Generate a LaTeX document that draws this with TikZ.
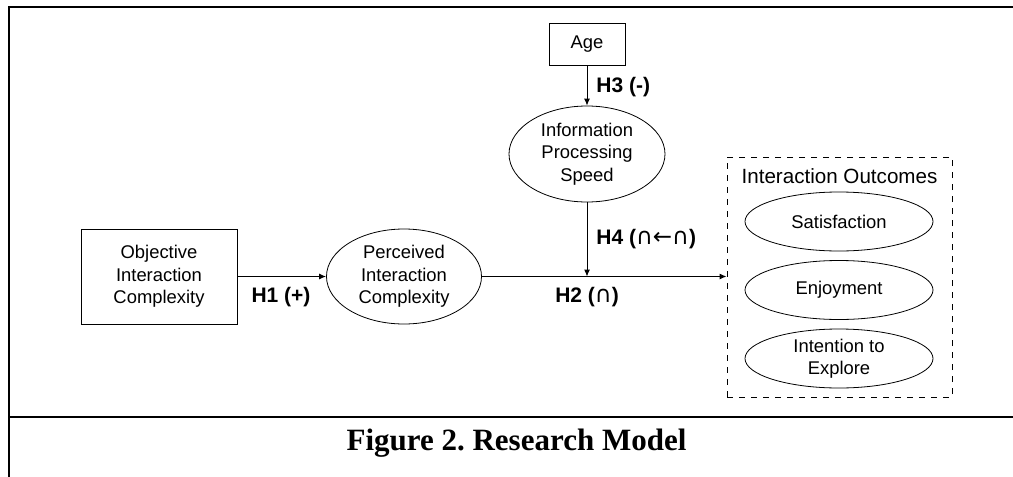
\documentclass[tikz,border=0pt]{standalone}
\usepackage{fontspec}
\setmainfont{Liberation Sans}
\newfontfamily\capfont{Liberation Serif}
\newfontfamily\symfont{DejaVu Sans}
\usetikzlibrary{shapes.geometric,arrows.meta}

\tikzset{
    varbox/.style={draw,rectangle,align=center,inner sep=0pt,font=\fontsize{9.2}{11.25}\selectfont},
    varell/.style={draw,ellipse,align=center,inner sep=0pt,font=\fontsize{9.2}{11.25}\selectfont},
    hyp/.style={font=\bfseries\fontsize{10.5}{12}\selectfont,inner sep=0pt},
    arr/.style={-{Latex[length=3.5pt,width=3pt]},line width=0.5pt}
}
\newcommand{\capsym}[1]{{\symfont\mdseries\fontsize{11.5}{12}\selectfont #1}}
\frenchspacing

\begin{document}
\begin{tikzpicture}[x=0.5pt,y=-0.5pt]
        \useasboundingbox (0,0) rectangle (1013,477);
        % frame
        \draw[line width=1pt] (8.7,477) -- (8.7,6.5) -- (1013,6.5);
        \draw[line width=1pt] (8.7,416.5) -- (1013,416.5);

        \node[varbox,minimum width=78pt,minimum height=47.5pt] (obj) at (159,276.5) {Objective\\Interaction\\Complexity};
        \node[varell,minimum width=77.5pt,minimum height=47.5pt] (pic) at (404,276.5) {Perceived\\Interaction\\Complexity};
        \node[varbox,minimum width=38pt,minimum height=21pt] (age) at (587,44) {Age};
        \node[varell,minimum width=78pt,minimum height=48pt] (ips) at (587,154) {Information\\Processing\\Speed};

        % outcomes
        \node[draw,dashed,line width=0.5pt,minimum width=112.5pt,minimum height=120pt] (outbox) at (839.5,277) {};
        \node[font=\fontsize{10.3}{12}\selectfont] (outtitle) at (839.5,176) {Interaction Outcomes};
        \foreach \y/\n/\t in {221.5/sat/Satisfaction, 290/enj/Enjoyment, 358.5/itx/{Intention to\\Explore}} {
            \node[varell,minimum width=94pt,minimum height=29.5pt] (\n) at (839,\y) {\t};
        }

        \coordinate (join) at (587,276.5);
        \draw[arr] (obj) -- (pic);
        \draw[line width=0.5pt] (pic) -- (join);
        \draw[arr] (join) -- (outbox.west |- join);
        \draw[arr] (age) -- (ips);
        \draw[arr] (ips) -- (join);

        \node[hyp] (h1) at (281,297) {H1 (+)};
        \node[hyp] (h2) at (587,297) {H2 (\capsym{∩})};
        \node[hyp,anchor=west] (h3) at (596,87) {H3 (-)};
        \node[hyp,anchor=west] (h4) at (596,239) {H4 (\capsym{∩←∩})};

        \node[font=\capfont\bfseries\fontsize{15.5}{18}\selectfont] (cap) at (516.5,443) {Figure 2. Research Model};
    \end{tikzpicture}
\end{document}
